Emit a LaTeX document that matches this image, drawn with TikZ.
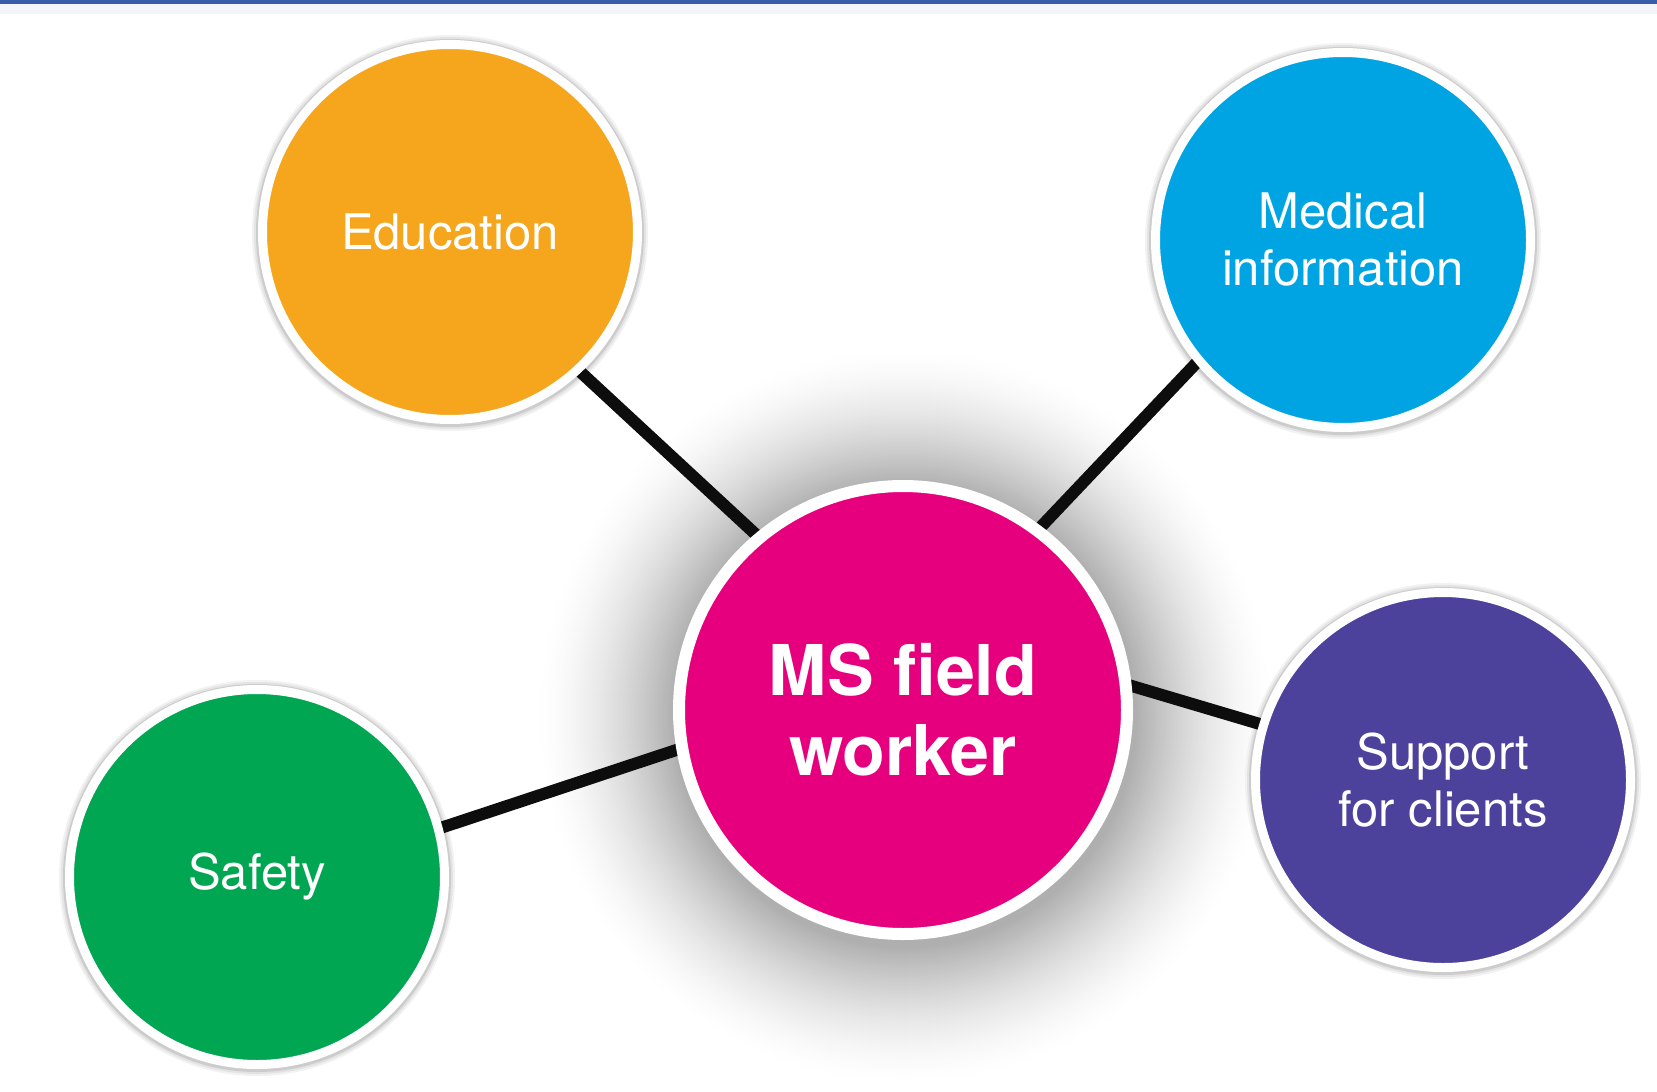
\documentclass[tikz,border=0pt]{standalone}
\usepackage{fontspec}
\setmainfont{TeX Gyre Heros}
\definecolor{edu}{RGB}{245,166,28}
\definecolor{med}{RGB}{0,164,226}
\definecolor{saf}{RGB}{0,166,81}
\definecolor{msc}{RGB}{230,0,126}
\definecolor{sup}{RGB}{76,66,155}
\definecolor{topblue}{RGB}{58,92,168}
\pgfdeclarelayer{paper}
\pgfdeclarelayer{halo}
\pgfdeclarelayer{links}
\pgfsetlayers{paper,halo,links,main}
\begin{document}
\begin{tikzpicture}[x=1pt,y=1pt,
  bubble/.style={circle, draw=white, text=white, align=center, inner sep=0pt},
  smallbubble/.style={bubble, line width=9pt, minimum size=375pt,
    font=\fontsize{49}{57}\selectfont},
  bigbubble/.style={bubble, line width=12pt, minimum size=448pt,
    font=\fontsize{70}{80}\selectfont\bfseries},
  link/.style={line width=12pt, black!95, shorten <=-10pt, shorten >=-10pt}]
\useasboundingbox (0,0) rectangle (1657,-1092);
\begin{pgfonlayer}{paper}
\fill[white] (0,0) rectangle (1657,-1092);
\fill[topblue] (0,0) rectangle (1657,-4);
\fill[topblue!6] (0,-4) rectangle (1657,-14);
\end{pgfonlayer}

\node[bigbubble, fill=msc] (ms) at (903,-710) {MS field\\worker};
\node[smallbubble, fill=edu] (edu) at (450,-232) {Education};
\node[smallbubble, fill=med] (med) at (1343,-240) {Medical\\information};
\node[smallbubble, fill=saf] (saf) at (257,-877) {Safety};
\node[smallbubble, fill=sup] (sup) at (1443,-780) {Support\\for clients};

\begin{pgfonlayer}{halo}
\foreach \r in {370,368,...,232}{
  \pgfmathsetmacro\g{32*((370-\r)/140)^1.6}
  \fill[black!\g] (905,-716) circle (\r);
}
\foreach \n in {edu,med,saf,sup}{
  \fill[black!5] ([yshift=-1pt]\n.center) circle (198);
  \fill[black!11] ([yshift=-1pt]\n.center) circle (196);
  \fill[black!20] ([yshift=-1pt]\n.center) circle (194);
}
\end{pgfonlayer}
\begin{pgfonlayer}{links}
\draw[link] (edu.-47.8) -- (ms.130);
\draw[link] (med.220.6) -- (ms.53.3);
\draw[link] (saf.15.5) -- (ms.190);
\draw[link] (sup.163) -- (ms.6);
\end{pgfonlayer}
\end{tikzpicture}
\end{document}
